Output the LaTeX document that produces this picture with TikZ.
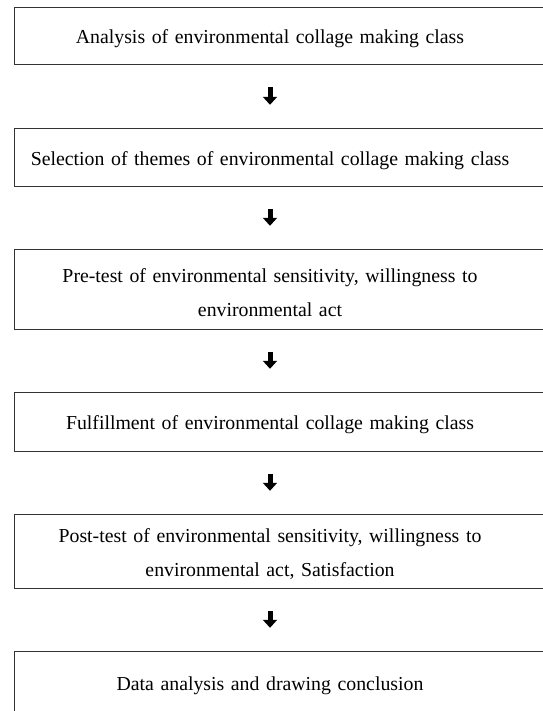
\documentclass[tikz,border=0pt]{standalone}
\usepackage{fontspec}
\setmainfont{Liberation Serif}
\usetikzlibrary{arrows.meta}
\tikzset{
  StepStyle/.style = { rectangle, text width = 495pt, inner xsep = 8pt,
                       inner ysep = 0pt, align = center,
                       font = \fontsize{19.8}{34}\selectfont },
  FrameStyle/.style = { draw = black!80, line width = 1.2pt },
  ArrowStyle/.style = { -{Triangle[width=14pt,length=8pt]}, line width = 5pt,
                        shorten <= 20pt, shorten >= 27pt } }

\begin{document}
\begin{tikzpicture}[x=1pt,y=1pt]
  \useasboundingbox (0,0) rectangle (542,-711);

  % text sits 3pt below the middle of each frame
  \node[StepStyle, minimum height=56pt] (s1) at (270,-39)
    {Analysis of environmental collage making class};
  \node[StepStyle, minimum height=57pt] (s2) at (270,-160.5)
    {Selection of themes of environmental collage making class};
  \node[StepStyle, minimum height=79pt] (s3) at (270,-292.5)
    {Pre-test of environmental sensitivity, willingness to\\ environmental act};
  \node[StepStyle, minimum height=58pt] (s4) at (270,-425)
    {Fulfillment of environmental collage making class};
  \node[StepStyle, minimum height=73pt] (s5) at (270,-554.5)
    {Post-test of environmental sensitivity, willingness to\\ environmental act, Satisfaction};
  \node[StepStyle, minimum height=62pt] (s6) at (270,-686)
    {Data analysis and drawing conclusion};

  % frames run past the right edge
  \foreach \i in {1,...,6}
    \draw[FrameStyle] ([yshift=3pt]s\i.south west) rectangle ([xshift=30pt,yshift=3pt]s\i.north east);

  \foreach \i [evaluate=\i as \j using int(\i+1)] in {1,...,5}
    \draw[ArrowStyle] (s\i) -- (s\j);

\end{tikzpicture}
\end{document}
